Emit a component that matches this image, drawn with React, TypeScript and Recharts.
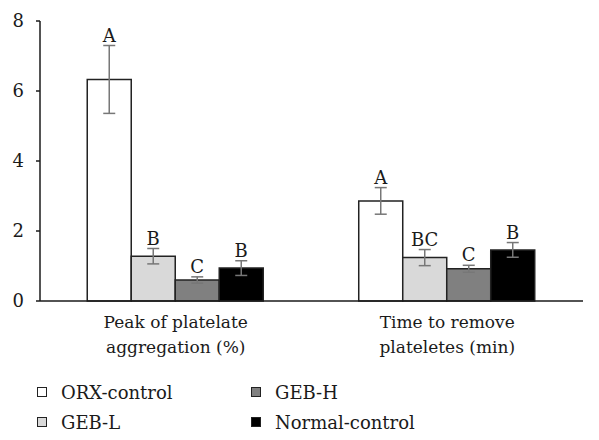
import { BarChart, Bar, XAxis, YAxis, ErrorBar, LabelList, Legend } from "recharts";

const categoryLines = [
  ["Peak of platelate", "aggregation (%)"],
  ["Time to remove", "plateletes (min)"],
];
const categories = categoryLines.map((l) => l.join(" "));

const orxControl = [6.33, 2.86];
const gebL = [1.28, 1.24];
const gebH = [0.6, 0.92];
const normalControl = [0.94, 1.46];

const orxErr = [0.97, 0.38];
const gebLErr = [0.22, 0.23];
const gebHErr = [0.09, 0.1];
const normalErr = [0.21, 0.21];

const orxLetters = ["A", "A"];
const gebLLetters = ["B", "BC"];
const gebHLetters = ["C", "C"];
const normalLetters = ["B", "B"];

const yTicks = [0, 2, 4, 6, 8];

const FONT = '"DejaVu Serif", serif';
const INK = "#1a1a1a";

const data = categories.map((name, i) => ({
  name,
  orx: orxControl[i],
  orxErr: orxErr[i],
  gebL: gebL[i],
  gebLErr: gebLErr[i],
  gebH: gebH[i],
  gebHErr: gebHErr[i],
  normal: normalControl[i],
  normalErr: normalErr[i],
}));

const series = [
  { key: "orx", name: "ORX-control", fill: "#ffffff", err: orxErr, letters: orxLetters },
  { key: "gebL", name: "GEB-L", fill: "#d9d9d9", err: gebLErr, letters: gebLLetters },
  { key: "gebH", name: "GEB-H", fill: "#808080", err: gebHErr, letters: gebHLetters },
  { key: "normal", name: "Normal-control", fill: "#000000", err: normalErr, letters: normalLetters },
];

// letter sits just above the top of the error bar
const makeLetter = (errs: number[], letters: string[]) => (props: any) => {
  const { x, y, width, height, value, index } = props;
  const perUnit = height / value;
  const top = y - errs[index] * perUnit;
  return (
    <text
      x={x + width / 2}
      y={top - 4}
      textAnchor="middle"
      style={{ fontFamily: FONT }}
      fontSize={18}
      fill={INK}
    >
      {letters[index]}
    </text>
  );
};

const CategoryTick = (props: any) => {
  const { x, y, index } = props;
  const lines = categoryLines[index] || [];
  return (
    <g>
      {lines.map((line, i) => (
        <text
          key={i}
          x={x}
          y={y + 19 + i * 25}
          textAnchor="middle"
          style={{ fontFamily: FONT }}
          fontSize={17}
          fill={INK}
        >
          {line}
        </text>
      ))}
    </g>
  );
};

const LegendBox = () => {
  const cols = [
    [series[0], series[1]],
    [series[2], series[3]],
  ];
  return (
    <div style={{ display: "flex", fontFamily: FONT, fontSize: 18, color: INK }}>
      {cols.map((col, ci) => (
        <div key={ci} style={{ width: ci === 0 ? 214 : 220 }}>
          {col.map((s) => (
            <div key={s.key} style={{ display: "flex", alignItems: "center", height: 30 }}>
              <span
                style={{
                  display: "inline-block",
                  width: 8,
                  height: 8,
                  background: s.fill,
                  border: "1px solid #222",
                  marginRight: 14,
                }}
              />
              <span>{s.name}</span>
            </div>
          ))}
        </div>
      ))}
    </div>
  );
};

export default function App() {
  return (
    <div
      style={{
        margin: -8,
        width: 599,
        height: 440,
        background: "#fff",
        overflow: "hidden",
        fontFamily: FONT,
      }}
    >
      <BarChart
        width={599}
        height={440}
        data={data}
        margin={{ top: 21, right: 16, left: 0, bottom: 79 }}
        barCategoryGap="17.4%"
        barGap={0}
        style={{ fontFamily: FONT }}
      >
        <XAxis
          dataKey="name"
          height={60}
          tickLine={false}
          axisLine={{ stroke: INK, strokeWidth: 1.5 }}
          tick={<CategoryTick />}
          interval={0}
        />
        <YAxis
          width={40}
          domain={[0, 8]}
          ticks={yTicks}
          tickSize={4}
          tickMargin={12}
          tickLine={{ stroke: INK, strokeWidth: 1.5 }}
          axisLine={{ stroke: INK, strokeWidth: 1.5 }}
          tick={{ fontFamily: FONT, fontSize: 18, fill: INK }}
        />
        {series.map((s) => (
          <Bar
            key={s.key}
            dataKey={s.key}
            name={s.name}
            fill={s.fill}
            stroke="#222"
            strokeWidth={1.5}
            isAnimationActive={false}
          >
            <ErrorBar dataKey={`${s.key}Err`} width={6} stroke="#777" strokeWidth={1.5} />
            <LabelList dataKey={s.key} content={makeLetter(s.err, s.letters)} />
          </Bar>
        ))}
        <Legend
          layout="horizontal"
          verticalAlign="middle"
          content={<LegendBox />}
          wrapperStyle={{ position: "absolute", top: 377, left: 37, width: 480 }}
        />
      </BarChart>
    </div>
  );
}
